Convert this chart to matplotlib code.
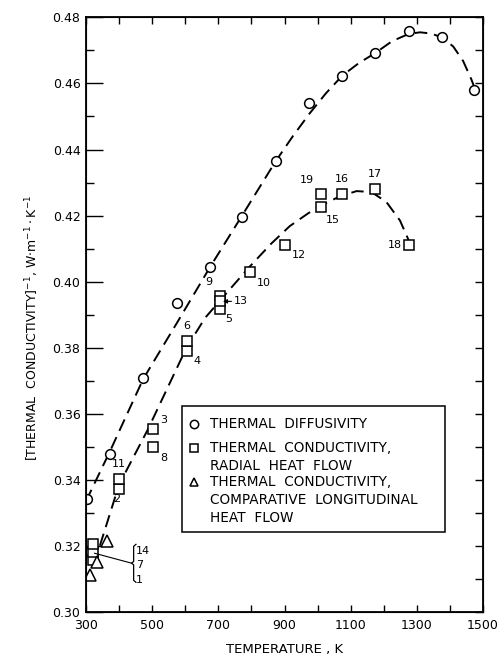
import matplotlib

matplotlib.use("Agg")
import matplotlib.pyplot as plt

plt.rcParams["font.family"] = ["DejaVu Sans"]
plt.rcParams["lines.scale_dashes"] = False

# thermal diffusivity (circles)
diff_T = [302, 372, 473, 574, 675, 772, 873, 975, 1075, 1175, 1275, 1376, 1474]
diff_y = [0.3341, 0.3477, 0.3709, 0.3934, 0.4045, 0.4197, 0.4366, 0.4540, 0.4624, 0.4692, 0.4759, 0.4740, 0.4580]

# radial heat flow (squares), run numbers
rad_id = ["1", "2", "3", "4", "5", "6", "7", "8", "9", "10",
          "11", "12", "13", "14", "15", "16", "17", "18", "19"]
rad_T = [320, 400, 503, 604, 704, 604, 320, 503, 704, 796,
         400, 901, 704, 320, 1009, 1073, 1174, 1277, 1009]
rad_y = [0.3158, 0.3372, 0.3553, 0.3790, 0.3918, 0.3821, 0.3180, 0.3498, 0.3955, 0.4028,
         0.3402, 0.4112, 0.3940, 0.3205, 0.4226, 0.4265, 0.4280, 0.4112, 0.4264]

# comparative longitudinal heat flow (triangles)
lon_T = [312, 333, 362]
lon_y = [0.3110, 0.3150, 0.3215]

# dashed fitted curves
fit_d_T = [300, 372, 473, 575, 675, 770, 873, 925, 975, 1025, 1075, 1125, 1174,
           1225, 1275, 1310, 1345, 1378, 1410, 1440, 1465, 1480]
fit_d_y = [0.3335, 0.3485, 0.3705, 0.3875, 0.4044, 0.4197, 0.4364, 0.4440, 0.4508,
           0.4570, 0.4624, 0.4662, 0.4692, 0.4728, 0.4750, 0.4755, 0.4751, 0.4738,
           0.4712, 0.4668, 0.4612, 0.4572]
fit_r_T = [342, 400, 486, 545, 604, 660, 710, 790, 860, 916, 972, 1010, 1067,
           1118, 1163, 1208, 1249, 1289]
fit_r_y = [0.3200, 0.3385, 0.3550, 0.3675, 0.3800, 0.3890, 0.3948, 0.4040, 0.4115,
           0.4168, 0.4207, 0.4230, 0.4258, 0.4274, 0.4271, 0.4241, 0.4185, 0.4094]

# label offsets (points) for each run number
lab_dx = [0, -4, 5, 5, 4, 0, 0, 5, -5, 5, 0, 5, 0, 0, 4, 0, 0, -5, -5]
lab_dy = [0, -4, 3, -4, -4, 7, 0, -4, 7, -4, 7, -4, 0, 0, -6, 7, 7, 0, 7]
lab_ha = ["left", "left", "left", "left", "left", "center", "left", "left", "right", "left",
          "center", "left", "left", "left", "left", "center", "center", "right", "right"]
lab_va = ["center", "top", "bottom", "top", "top", "bottom", "center", "top", "bottom", "top",
          "bottom", "top", "center", "center", "top", "bottom", "bottom", "center", "bottom"]
bracket_ids = {"1", "7", "14"}

fig = plt.figure(figsize=(5.0, 6.61), dpi=100)
ax = fig.add_axes([0.172, 0.0746, 0.794, 0.899])

dash = (9, 5)
ax.plot(fit_d_T, fit_d_y, color="black", lw=1.4, dashes=dash)
ax.plot(fit_r_T, fit_r_y, color="black", lw=1.4, dashes=dash)

mk = dict(ls="none", mfc="white", mec="black", mew=1.1)
ax.plot(diff_T, diff_y, marker="o", ms=7, **mk)
ax.plot(rad_T, rad_y, marker="s", ms=7.5, **mk)
ax.plot(lon_T, lon_y, marker="^", ms=8, **mk)

for rid, t, y, dx, dy, ha, va in zip(rad_id, rad_T, rad_y, lab_dx, lab_dy, lab_ha, lab_va):
    if rid in bracket_ids or rid == "13":
        continue
    ax.annotate(rid, (t, y), xytext=(dx, dy), textcoords="offset points",
                ha=ha, va=va, fontsize=8)

# run 13 with a small arrow
ax.annotate("13", (rad_T[12] + 10, rad_y[12]), xytext=(748, rad_y[12]),
            ha="left", va="center", fontsize=8,
            arrowprops=dict(arrowstyle="-|>", lw=0.8, color="black",
                            mutation_scale=6, shrinkA=0, shrinkB=0))

# bracket for runs 14, 7, 1
ax.plot([451, 444, 444, 437.5, 444, 444, 451],
        [0.3204, 0.3198, 0.3152, 0.3147, 0.3142, 0.3095, 0.3089],
        color="black", lw=0.9)
ax.plot([326, 437.5], [0.3177, 0.3147], color="black", lw=0.8)
for rid, ly in zip(["14", "7", "1"], [0.3184, 0.3142, 0.3097]):
    ax.text(452, ly, rid, ha="left", va="center", fontsize=8)

ax.set_xlim(300, 1500)
ax.set_ylim(0.30, 0.48)
ax.set_xticks(range(300, 1501, 200))
ax.set_xticks(range(300, 1501, 100), minor=True)
ax.set_yticks([0.30 + 0.02 * i for i in range(10)])
ax.set_yticklabels([f"{0.30 + 0.02 * i:.2f}" for i in range(10)])
ax.set_yticks([0.30 + 0.01 * i for i in range(19)], minor=True)
ax.tick_params(axis="x", which="both", direction="in", top=True, length=5, width=1,
               labelsize=9, pad=5)
ax.tick_params(axis="y", which="major", direction="in", length=12, width=1,
               labelsize=9, pad=4)
ax.tick_params(axis="y", which="minor", direction="in", length=6, width=1)
for s in ax.spines.values():
    s.set_linewidth(1.3)

axr = ax.twinx()
axr.set_ylim(ax.get_ylim())
axr.set_yticks([0.30 + 0.01 * i for i in range(19)])
axr.tick_params(axis="y", direction="in", length=6, width=1, labelright=False)

ax.set_xlabel("TEMPERATURE , K", fontsize=9.5, labelpad=8)
fig.text(0.064, 0.504,
         r"$\left[\mathrm{THERMAL\ \ CONDUCTIVITY}\right]^{-1}$, W$\cdot$m$^{-1}\cdot$K$^{-1}$",
         rotation=90, ha="center", va="center", fontsize=9)

# legend box
box = plt.Rectangle((0.241, 0.1346), 0.663, 0.2114, transform=ax.transAxes,
                    fill=True, fc="white", ec="black", lw=1.1, zorder=5)
ax.add_patch(box)
leg_mark = ["o", "s", "^"]
leg_my = [0.3158, 0.275, 0.2187]
leg_lines = [["THERMAL  DIFFUSIVITY"],
             ["THERMAL  CONDUCTIVITY,", "RADIAL  HEAT  FLOW"],
             ["THERMAL  CONDUCTIVITY,", "COMPARATIVE  LONGITUDINAL", "HEAT  FLOW"]]
for m, my, lines in zip(leg_mark, leg_my, leg_lines):
    ax.plot([0.272], [my], marker=m, ms=6, transform=ax.transAxes, zorder=6,
            clip_on=False, **mk)
    for k, txt in enumerate(lines):
        ax.text(0.312, my - k * 0.0305, txt, transform=ax.transAxes, ha="left",
                va="center", fontsize=9.8, zorder=6)

fig.savefig("out.png", dpi=100)
